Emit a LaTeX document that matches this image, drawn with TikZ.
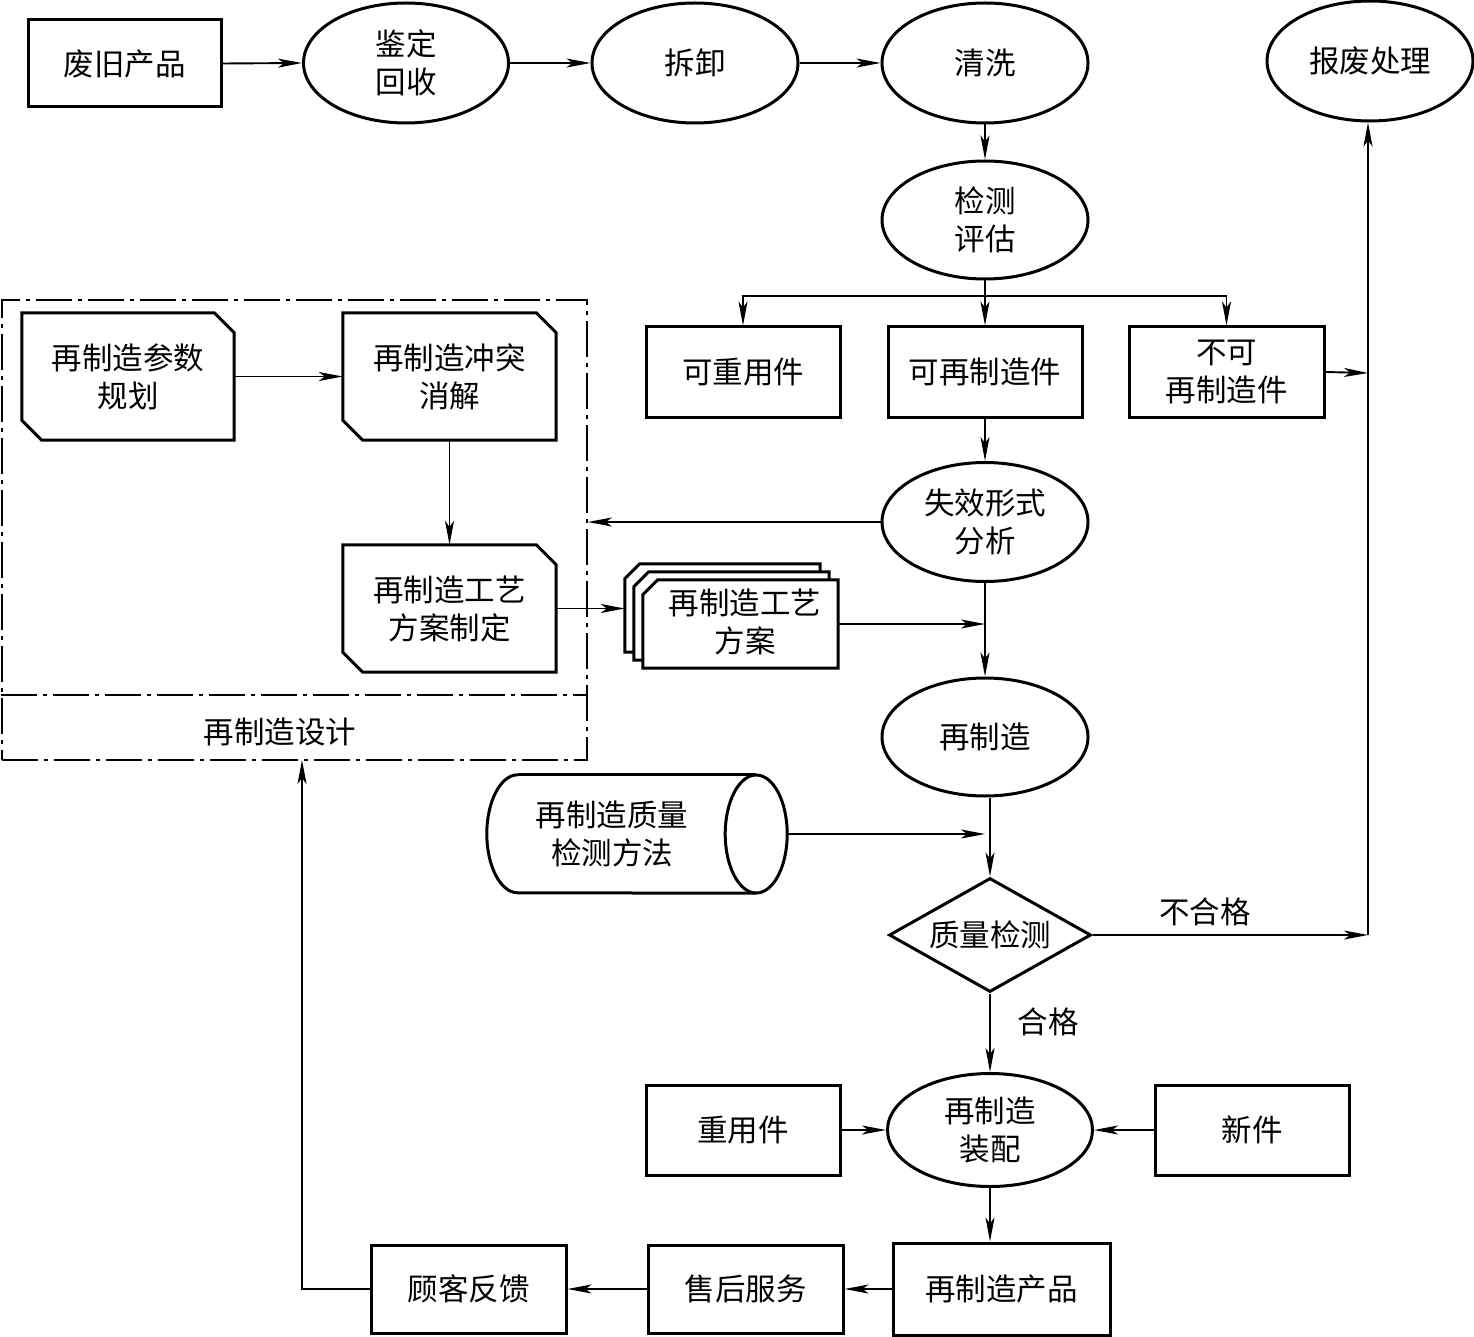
\documentclass[tikz,border=0pt]{standalone}
\usepackage{fontspec}
\setmainfont{Noto Sans CJK SC}
\usetikzlibrary{shapes.geometric,arrows.meta,calc}
\newcommand\chamferbox[1]{\draw[shapeline] (#1.north west) -- ([xshift=-20pt]#1.north east) -- ([yshift=-20pt]#1.north east) -- (#1.south east) -- ([xshift=20pt]#1.south west) -- ([yshift=20pt]#1.south west) -- cycle;}
\newcommand\docshape[1]{\draw[shapeline, fill=white] ([yshift=-15pt]#1.north west) -- ([xshift=15pt]#1.north west) -- (#1.north east) -- (#1.south east) -- (#1.south west) -- cycle;}
\begin{document}
\begin{tikzpicture}[x=1pt,y=-1pt,
  every node/.style={font=\fontsize{30.5}{38}\selectfont, align=center, inner sep=0pt},
  shapeline/.style={line width=3pt, line join=miter},
  box/.style={draw, shapeline, minimum width=194pt, minimum height=90pt},
  oval/.style={draw, ellipse, shapeline, minimum width=206pt, minimum height=118pt},
  arr/.style={line width=1.9pt, -{Stealth[length=24pt,width=9pt,inset=6pt]}},
  chamnode/.style={minimum width=213pt, minimum height=127pt},
  docnode/.style={minimum width=195pt, minimum height=88pt},
  dashdot/.style={line width=1.6pt, dash pattern=on 36pt off 6pt on 4pt off 6pt}
]
\useasboundingbox (0,0) rectangle (1474,1337);

% top row
\node[box, minimum width=193pt, minimum height=87pt] (waste) at (124.5,63.5) {废旧产品};
\node[oval, minimum width=205pt, minimum height=120pt] (ident) at (406,63) {鉴定\\回收};
\node[oval, minimum height=120pt] (disas) at (695,63) {拆卸};
\node[oval, minimum height=120pt] (clean) at (985,63) {清洗};
\node[oval, minimum height=120pt] (scrap) at (1370,61) {报废处理};

\node[oval] (eval) at (985,220) {检测\\评估};
\coordinate (br) at (985,296);

\node[box] (reuse) at (743,372) {可重用件};
\node[box] (reg) at (985,372) {可再制造件};
\node[box, minimum width=195pt] (nonreg) at (1226.5,372) {不可\\再制造件};

\node[oval, minimum height=119pt] (fail) at (985,522) {失效形式\\分析};
\node[oval] (remf) at (985,737) {再制造};

% design frame
\node[draw, dashdot, minimum width=585pt, minimum height=460pt] (frame) at (294.5,530) {};
\coordinate (divy) at (0,695);
\draw[dashdot] (frame.west |- divy) -- (frame.east |- divy);
\node (design) at (280,732) {再制造设计};

\node[chamnode, minimum width=212pt] (param) at (128,376.5) {再制造参数\\规划};
\node[chamnode] (conflict) at (449.5,376.5) {再制造冲突\\消解};
\node[chamnode] (making) at (449.5,608.5) {再制造工艺\\方案制定};
\chamferbox{param}
\chamferbox{conflict}
\chamferbox{making}

% document stack
\node[docnode] (plan3) at (722.5,608) {};
\node[docnode] (plan2) at (731.5,616) {};
\node[docnode] (plan) at (740.5,624) {};
\docshape{plan3}
\docshape{plan2}
\docshape{plan}
\node (plantext) at (745,622) {再制造工艺\\方案};

% cylinder
\node[minimum width=300pt, minimum height=118pt] (cyl) at (637,834) {};
\draw[shapeline] ([xshift=31pt]cyl.north west) arc[start angle=90, end angle=270, x radius=31pt, y radius=59pt] -- ([xshift=-31pt]cyl.south east);
\draw[shapeline] ([xshift=31pt]cyl.north west) -- ([xshift=-31pt]cyl.north east);
\draw[shapeline] ([xshift=-31pt]cyl.east) ellipse[x radius=31pt, y radius=59pt];
\node (cyltext) at (612,834) {再制造质量\\检测方法};

\node[draw, diamond, shapeline, aspect=1.77, minimum width=202pt, minimum height=114pt] (qc) at (990,935) {质量检测};
\node (fail-lbl) at (1205,912) {不合格};
\node (pass-lbl) at (1048,1022) {合格};

\node[oval, minimum width=205pt, minimum height=113pt] (asm) at (990,1130) {再制造\\装配};
\node[box] (reused) at (743,1130) {重用件};
\node[box] (newp) at (1252,1130) {新件};

\node[box, minimum width=217pt, minimum height=92pt] (prod) at (1001.5,1289) {再制造产品};
\node[box, minimum width=195pt, minimum height=88pt] (service) at (745.5,1289) {售后服务};
\node[box, minimum width=195pt, minimum height=88pt] (cust) at (468.5,1289) {顾客反馈};

\coordinate (q1) at (1368,935);
\coordinate (q2) at (1368,373);
\coordinate (fb) at (302,760);

% connectors
\draw[arr] (waste.east) -- (ident.west);
\draw[arr] (ident.east) -- (disas.west);
\draw[arr] (disas.east) -- (clean.west);
\draw[arr] (clean.south) -- (eval.north);
\draw[arr] (eval.south) -- (reg.north);
\draw[arr] (br) -| (reuse.north);
\draw[arr] (br) -| (nonreg.north);
\draw[arr] (nonreg.east) -- (q2);
\draw[arr] (reg.south) -- (fail.north);
\draw[arr] (fail.west) -- (fail.west -| frame.east);
\draw[arr] (fail.south) -- (remf.north);
\draw[arr] (plan.east) -- (plan.east -| fail.south);
\draw[arr] (param.east) -- (conflict.west);
\draw[arr] (conflict.south) -- (making.north);
\draw[arr] (making.east) -- (making.east -| plan3.west);
\draw[arr] (qc.north |- remf.south) -- (qc.north);
\draw[arr] (cyl.east) -- (cyl.east -| remf.south);
\draw[arr] (qc.east) -- (q1);
\draw[arr] (q1) -- (q1 |- scrap.south);
\draw[arr] (qc.south) -- (asm.north);
\draw[arr] (reused.east) -- (asm.west);
\draw[arr] (newp.west) -- (asm.east);
\draw[arr] (asm.south) -- (asm.south |- prod.north);
\draw[arr] (prod.west) -- (service.east);
\draw[arr] (service.west) -- (cust.east);
\draw[arr] (cust.west) -| (fb);
\end{tikzpicture}
\end{document}
